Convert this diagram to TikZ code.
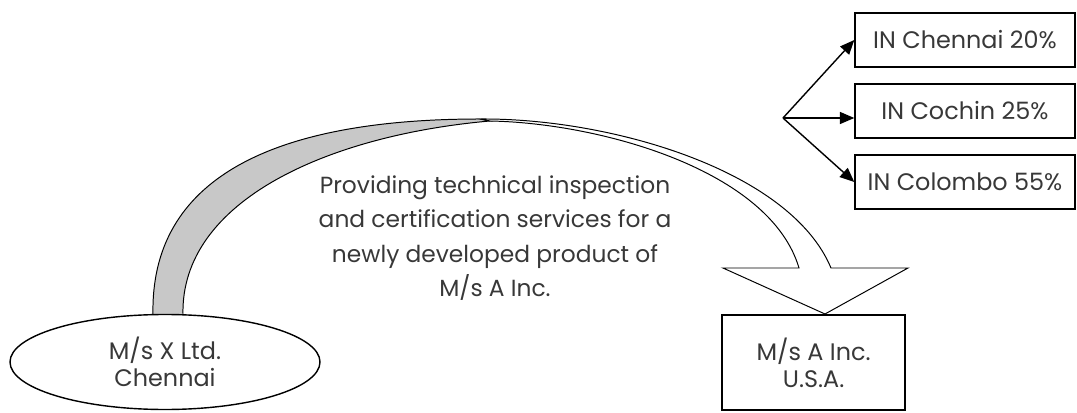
\documentclass[tikz,border=0pt]{standalone}
\usepackage{fontspec}
\setmainfont{Poppins}
\usetikzlibrary{positioning,arrows.meta,shapes.geometric}
\definecolor{bandgray}{HTML}{C8C8C8}
\definecolor{txtgray}{HTML}{383838}

\begin{document}
\begin{tikzpicture}[
    party/.style={draw, line width=1pt, fill=white, align=center, font=\fontsize{17}{19.2}\selectfont, text=txtgray, minimum height=2.375cm, inner sep=0pt},
    share/.style={draw, line width=1pt, font=\fontsize{17}{19}\selectfont, text=txtgray, minimum width=5.5cm, minimum height=1.35cm},
    arr/.style={-{Triangle[length=3.6mm, width=3mm]}, line width=1pt}]
  \useasboundingbox (0,0) rectangle (26.925,10.3);
  % curved block arrow, shaded back face and white front face
  \draw[line width=0.7pt, fill=bandgray] (3.825,2.425) .. controls (3.75,5.8) and (6.75,7.325) .. (12,7.325) -- (12.25,7.275) .. controls (8.25,6.925) and (4.5,5.3) .. (4.575,2.425) -- cycle;
  \draw[line width=0.7pt, fill=white] (12,7.325) .. controls (15.25,7.35) and (19.75,6.05) .. (20.775,3.6) -- (22.7,3.6) -- (20.625,2.45) -- (18.075,3.6) -- (19.975,3.6) .. controls (19.25,6.05) and (15,7.225) .. (12.25,7.275) -- cycle;
  \node[align=center, font=\fontsize{16.6}{24.5}\selectfont, text=txtgray] (desc) at (12.375,4.35) {Providing technical inspection\\and certification services for a\\newly developed product of\\M/s A Inc.};
  \node[party, ellipse, minimum width=7.75cm] (xltd) at (4.125,1.25) {M/s X Ltd.\\Chennai};
  \node[party, minimum width=4.575cm] (ainc) at (20.34,1.24) {M/s A Inc.\\U.S.A.};
  \node[share] (chn) at (24.125,9.3) {IN Chennai 20\%};
  \node[share] (coc) at (24.125,7.525) {IN Cochin 25\%};
  \node[share] (col) at (24.125,5.75) {IN Colombo 55\%};
  \coordinate (fork) at (19.575,7.35);
  \draw[arr] (fork) -- (chn.west);
  \draw[arr] (fork) -- (fork -| coc.west);
  \draw[arr] (fork) -- (col.west);
\end{tikzpicture}
\end{document}
